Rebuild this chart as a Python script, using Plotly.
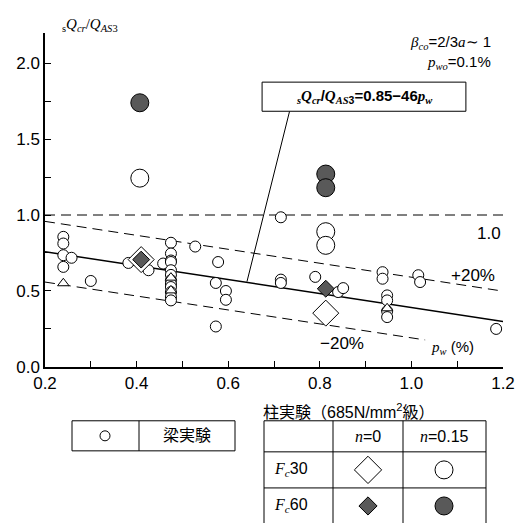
import plotly.graph_objects as go
import numpy as np

# ---------------- data ----------------
beam_x = [0.24, 0.24, 0.24, 0.258, 0.24, 0.30,
          0.382, 0.426, 0.458,
          0.475, 0.475, 0.475, 0.475, 0.475, 0.475, 0.475, 0.475, 0.475, 0.475, 0.475, 0.475,
          0.528, 0.578, 0.573, 0.595, 0.595, 0.573,
          0.715, 0.715, 0.715, 0.79, 0.84, 0.851,
          0.937, 0.937, 1.015, 1.019,
          0.947, 0.947, 0.947, 0.947,
          1.185]
beam_y = [0.856, 0.812, 0.735, 0.718, 0.658, 0.565,
          0.684, 0.636, 0.68,
          0.817, 0.746, 0.70, 0.69, 0.636, 0.605, 0.57, 0.545, 0.525, 0.492, 0.46, 0.437,
          0.792, 0.69, 0.552, 0.499, 0.441, 0.265,
          0.985, 0.574, 0.552, 0.592, 0.492, 0.518,
          0.623, 0.58, 0.603, 0.558,
          0.47, 0.437, 0.366, 0.327,
          0.249]
tri_x = [0.24, 0.475, 0.475, 0.947]
tri_y = [0.55, 0.587, 0.503, 0.385]

fc30_n0_x = [0.813, 0.41]
fc30_n0_y = [0.353, 0.706]
fc60_n0_x = [0.813, 0.41]
fc60_n0_y = [0.514, 0.706]
fc30_n15_x = [0.407, 0.813, 0.813]
fc30_n15_y = [1.243, 0.89, 0.80]
fc60_n15_x = [0.407, 0.813, 0.813]
fc60_n15_y = [1.74, 1.27, 1.18]

# design formula sQcr/QAS3 = 0.85 - 46 pw  (pw in %, so 0.46 per %)
coef_a = 0.85
coef_b = 0.46
band = 0.20
x_ticks = [0.2, 0.4, 0.6, 0.8, 1.0, 1.2]
y_ticks = [0.0, 0.5, 1.0, 1.5, 2.0]

DARK = "#595959"
SANS = "Liberation Sans, Arial, Noto Sans CJK JP"
SERIF = "Liberation Serif"

def it(s):
    return f"<span style=\"font-family:'{SERIF}'\"><i>{s}</i></span>"

fig = go.Figure()

# lines
xl = np.array([0.2, 1.2])
fig.add_trace(go.Scatter(x=xl, y=[1.0, 1.0], mode="lines",
                         line=dict(color="black", width=1, dash="10px,6px"), hoverinfo="skip"))
fig.add_trace(go.Scatter(x=xl, y=coef_a - coef_b * xl + band, mode="lines",
                         line=dict(color="black", width=1, dash="10px,6px"), hoverinfo="skip"))
xlo = np.array([0.2, 1.03])
fig.add_trace(go.Scatter(x=xlo, y=coef_a - coef_b * xlo - band, mode="lines",
                         line=dict(color="black", width=1, dash="10px,6px"), hoverinfo="skip"))
fig.add_trace(go.Scatter(x=xl, y=coef_a - coef_b * xl, mode="lines",
                         line=dict(color="black", width=1.5), hoverinfo="skip"))
# leader line
fig.add_trace(go.Scatter(x=[0.734, 0.641], y=[1.684, 0.561], mode="lines",
                         line=dict(color="black", width=1), hoverinfo="skip"))

# markers
fig.add_trace(go.Scatter(x=beam_x, y=beam_y, mode="markers",
                         marker=dict(symbol="circle", size=11, color="white",
                                     line=dict(color="black", width=1))))
fig.add_trace(go.Scatter(x=tri_x, y=tri_y, mode="markers",
                         marker=dict(symbol="triangle-up", size=10, color="white",
                                     line=dict(color="black", width=1))))
fig.add_trace(go.Scatter(x=fc30_n15_x, y=fc30_n15_y, mode="markers",
                         marker=dict(symbol="circle", size=18, color="white",
                                     line=dict(color="black", width=1))))
fig.add_trace(go.Scatter(x=fc60_n15_x, y=fc60_n15_y, mode="markers",
                         marker=dict(symbol="circle", size=18, color=DARK,
                                     line=dict(color="black", width=1))))
fig.add_trace(go.Scatter(x=fc30_n0_x, y=fc30_n0_y, mode="markers",
                         marker=dict(symbol="diamond", size=20, color="white",
                                     line=dict(color="black", width=1))))
fig.add_trace(go.Scatter(x=fc60_n0_x, y=fc60_n0_y, mode="markers",
                         marker=dict(symbol="diamond", size=13, color=DARK,
                                     line=dict(color="black", width=1))))

# legend table markers (pixel-coordinate helper axes)
fig.add_trace(go.Scatter(x=[105], y=[435], xaxis="x2", yaxis="y2", mode="markers",
                         marker=dict(symbol="circle", size=10, color="white",
                                     line=dict(color="black", width=1))))
fig.add_trace(go.Scatter(x=[368], y=[469], xaxis="x2", yaxis="y2", mode="markers",
                         marker=dict(symbol="diamond", size=21, color="white",
                                     line=dict(color="black", width=1))))
fig.add_trace(go.Scatter(x=[444], y=[469], xaxis="x2", yaxis="y2", mode="markers",
                         marker=dict(symbol="circle", size=18, color="white",
                                     line=dict(color="black", width=1))))
fig.add_trace(go.Scatter(x=[368], y=[505], xaxis="x2", yaxis="y2", mode="markers",
                         marker=dict(symbol="diamond", size=14, color=DARK,
                                     line=dict(color="black", width=1))))
fig.add_trace(go.Scatter(x=[444], y=[505], xaxis="x2", yaxis="y2", mode="markers",
                         marker=dict(symbol="circle", size=18, color=DARK,
                                     line=dict(color="black", width=1))))

shapes = []
# formula box
shapes.append(dict(type="rect", xref="x", yref="y", x0=0.674, x1=1.119, y0=1.684, y1=1.876,
                   line=dict(color="black", width=1), fillcolor="white", layer="above"))
# left table
shapes.append(dict(type="rect", xref="x2", yref="y2", x0=72, x1=235, y0=420, y1=450,
                   line=dict(color="black", width=1)))
shapes.append(dict(type="line", xref="x2", yref="y2", x0=139, x1=139, y0=420, y1=450,
                   line=dict(color="black", width=1)))
# right table
for yy in [420, 451, 487]:
    shapes.append(dict(type="line", xref="x2", yref="y2", x0=264, x1=486, y0=yy, y1=yy,
                       line=dict(color="black", width=1)))
for xx in [264, 333, 403, 486]:
    shapes.append(dict(type="line", xref="x2", yref="y2", x0=xx, x1=xx, y0=420, y1=523,
                       line=dict(color="black", width=1)))

ann = []
def A(x, y, text, size=16, xanchor="center", yanchor="middle", xref="x", yref="y", font=SANS):
    ann.append(dict(x=x, y=y, xref=xref, yref=yref, text=text, showarrow=False,
                    xanchor=xanchor, yanchor=yanchor, font=dict(size=size, family=font, color="black")))

# y title (paper coords: plot area is 458 x 490 px, starting at (45, 33))
A((60 - 45) / 458, (523 - 25) / 490,
  "<sub>s</sub><i>Q</i><sub><i>cr</i></sub>/<i>Q</i><sub><i>AS</i>3</sub>", size=15,
  xanchor="left", xref="paper", yref="paper", font=SERIF)
A(1.178, 2.14, it("β") + "<sub>" + it("co") + "</sub>=2/3" + it("a") + "∼ 1", size=15, xanchor="right")
A(1.178, 2.005, it("p") + "<sub>" + it("wo") + "</sub>=0.1%", size=15, xanchor="right")
A(0.897, 1.78, "<b>" + "<sub>" + it("s") + "</sub>" + it("Q") + "<sub>" + it("cr") + "</sub>/" + it("Q")
  + "<sub>" + it("AS") + "3</sub>=0.85−46" + it("p") + "<sub>" + it("w") + "</sub></b>", size=15)
A(1.2, 0.88, "1.0", size=17, xanchor="right")
A(1.187, 0.60, "+20%", size=17, xanchor="right")
A(0.848, 0.15, "−20%", size=17)
A(1.089, 0.125, it("p") + "<sub>" + it("w") + "</sub> (%)", size=15)
# x title and tables
A(349, 410, "柱実験（685N/mm<sup>2</sup>級）", size=16, xref="x2", yref="y2")
A(187, 435, "梁実験", size=16, xref="x2", yref="y2")
A(368, 436, it("n") + "=0", size=16, xref="x2", yref="y2")
A(444, 436, it("n") + "=0.15", size=16, xref="x2", yref="y2")
A(272, 469, it("F") + "<sub>" + it("c") + "</sub>30", size=16, xanchor="left", xref="x2", yref="y2")
A(272, 505, it("F") + "<sub>" + it("c") + "</sub>60", size=16, xanchor="left", xref="x2", yref="y2")

ydom0 = (523 - 366) / 490

# the capture compresses the page vertically a little, so draw slightly taller
H = 534
S = H / 523

fig.update_layout(
    width=516, height=H, autosize=False,
    margin=dict(l=45, r=13, t=32 * S, b=0, pad=0),
    paper_bgcolor="white", plot_bgcolor="white",
    showlegend=False,
    font=dict(family=SANS, size=17, color="black"),
    xaxis=dict(range=[0.2, 1.2], domain=[0, 1], anchor="y", showline=True, linecolor="black",
               linewidth=1.5, ticks="inside", ticklen=6, tickcolor="black",
               tickvals=x_ticks, ticktext=[f"{v:.1f}" for v in x_ticks],
               minor=dict(dtick=0.1, tick0=0.2, ticks="inside", ticklen=6, tickcolor="black"),
               showgrid=False, zeroline=False, tickfont=dict(size=17)),
    yaxis=dict(range=[0, 2.2], domain=[ydom0, 1], anchor="x", showline=True, linecolor="black",
               linewidth=1.5, ticks="inside", ticklen=6, tickcolor="black",
               tickvals=y_ticks, ticktext=[f"{v:.1f}" for v in y_ticks],
               minor=dict(dtick=0.25, tick0=0, ticks="inside", ticklen=6, tickcolor="black"),
               showgrid=False, zeroline=False, tickfont=dict(size=17)),
    xaxis2=dict(range=[45, 503], domain=[0, 1], anchor="y2", visible=False),
    yaxis2=dict(range=[523, 366], domain=[0, ydom0], anchor="x2", visible=False),
    shapes=shapes, annotations=ann,
)

post = "document.body.style.margin='0px';document.body.style.overflow='hidden';"
fig.write_html("out.html", config={"responsive": False, "displayModeBar": False}, post_script=post)
